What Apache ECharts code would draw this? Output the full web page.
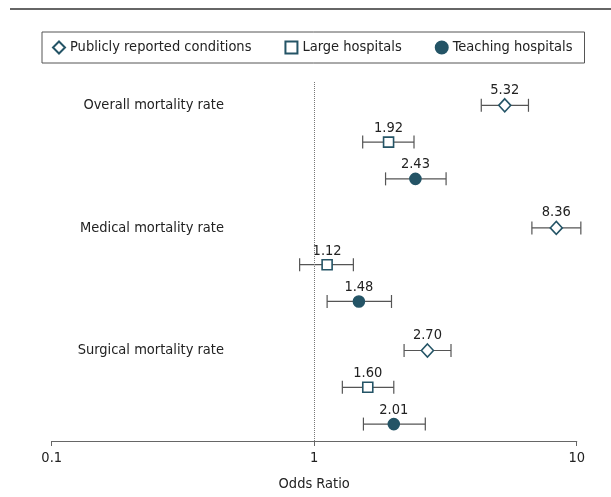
<!DOCTYPE html>
<html>
<head>
<meta charset="utf-8">
<script src="https://cdn.jsdelivr.net/npm/echarts@6/dist/echarts.min.js"></script>
<style>html,body{margin:0;padding:0;background:#fff}#c{width:611px;height:497px}</style>
</head>
<body>
<div id="c"></div>
<script>
const groups = ['Overall mortality rate', 'Medical mortality rate', 'Surgical mortality rate'];
const seriesNames = ['Publicly reported conditions', 'Large hospitals', 'Teaching hospitals'];
const publicOR = [5.32, 8.36, 2.70];
const publicLow = [4.33, 6.75, 2.20];
const publicHigh = [6.55, 10.37, 3.32];
const largeOR = [1.92, 1.12, 1.60];
const largeLow = [1.53, 0.88, 1.28];
const largeHigh = [2.40, 1.41, 2.01];
const teachOR = [2.43, 1.48, 2.01];
const teachLow = [1.87, 1.12, 1.54];
const teachHigh = [3.18, 1.97, 2.65];
const xTicks = [0.1, 1, 10];

const FONT = "'Liberation Sans Narrow','DejaVu Sans Condensed','Noto Sans',sans-serif";
const FS = 14.5;
const TEAL = '#245466';
const GROUP_STEP = 10, ROW_STEP = 3;
const rowPos = (g, s) => g * GROUP_STEP + s * ROW_STEP;

const all = [
  {name: seriesNames[0], or: publicOR, lo: publicLow, hi: publicHigh, symbol: 'diamond', size: [12, 13], fill: '#fff'},
  {name: seriesNames[1], or: largeOR, lo: largeLow, hi: largeHigh, symbol: 'rect', size: 10, fill: '#fff'},
  {name: seriesNames[2], or: teachOR, lo: teachLow, hi: teachHigh, symbol: 'circle', size: 11, fill: TEAL}
];

const series = [];
all.forEach((d, s) => {
  series.push({
    type: 'scatter',
    name: d.name,
    z: 3,
    symbol: d.symbol,
    symbolSize: d.size,
    itemStyle: {color: d.fill, borderColor: TEAL, borderWidth: 1.6, opacity: 1},
    data: d.or.map((v, g) => [v, rowPos(g, s)]),
    label: {show: true, position: 'top', distance: 0.5, fontFamily: FONT, fontSize: FS, color: '#222',
      formatter: p => p.value[0].toFixed(2)},
    markLine: s === 0 ? {silent: true, symbol: 'none', label: {show: false},
      lineStyle: {type: 'dotted', color: '#777', width: 1}, data: [{xAxis: 1}]} : undefined
  });
  series.push({
    type: 'custom',
    name: d.name + ' 95% CI',
    z: 1,
    silent: true,
    data: d.or.map((v, g) => [d.lo[g], d.hi[g], rowPos(g, s)]),
    renderItem: function (params, api) {
      const a = api.coord([api.value(0), api.value(2)]);
      const b = api.coord([api.value(1), api.value(2)]);
      const h = 6.5;
      const st = {stroke: '#555', lineWidth: 1.2};
      return {type: 'group', children: [
        {type: 'line', shape: {x1: a[0], y1: a[1], x2: b[0], y2: b[1]}, style: st},
        {type: 'line', shape: {x1: a[0], y1: a[1] - h, x2: a[0], y2: a[1] + h}, style: st},
        {type: 'line', shape: {x1: b[0], y1: b[1] - h, x2: b[0], y2: b[1] + h}, style: st}
      ]};
    }
  });
});

const chart = echarts.init(document.getElementById('c'), null, {renderer: 'canvas'});
chart.setOption({
  animation: false,
  backgroundColor: '#fff',
  textStyle: {fontFamily: FONT},
  graphic: [{type: 'line', shape: {x1: 10, y1: 9, x2: 611, y2: 9}, style: {stroke: '#666', lineWidth: 2}}],
  legend: {
    top: 32, left: 42,
    data: seriesNames.map(n => ({name: n})),
    padding: [8, 12, 8, 10],
    borderColor: '#555', borderWidth: 1,
    itemGap: 33, itemWidth: 12, itemHeight: 12,
    textStyle: {fontFamily: FONT, fontSize: FS, color: '#222'}
  },
  grid: {left: 51.7, right: 34.3, top: 82, bottom: 49, containLabel: false},
  xAxis: {
    type: 'log', logBase: 10, min: 0.1, max: 10,
    axisLine: {onZero: false, lineStyle: {color: '#666', width: 1.2}},
    axisTick: {show: true, length: 5, lineStyle: {color: '#666'}},
    splitLine: {show: false},
    axisLabel: {fontFamily: FONT, fontSize: FS, color: '#222', margin: 10,
      customValues: xTicks, formatter: v => String(v)},
    name: 'Odds Ratio', nameLocation: 'middle', nameGap: 36,
    nameTextStyle: {fontFamily: FONT, fontSize: FS, color: '#222'}
  },
  yAxis: {
    type: 'value', inverse: true, min: -1.9, max: 27.38,
    offset: -172.3,
    axisLine: {show: false}, axisTick: {show: false}, splitLine: {show: false},
    axisLabel: {customValues: groups.map((g, i) => i * GROUP_STEP), margin: 0, align: 'right',
      fontFamily: FONT, fontSize: FS, color: '#222',
      formatter: v => groups[Math.round(v / GROUP_STEP)]}
  },
  series: series
});
</script>
</body>
</html>
